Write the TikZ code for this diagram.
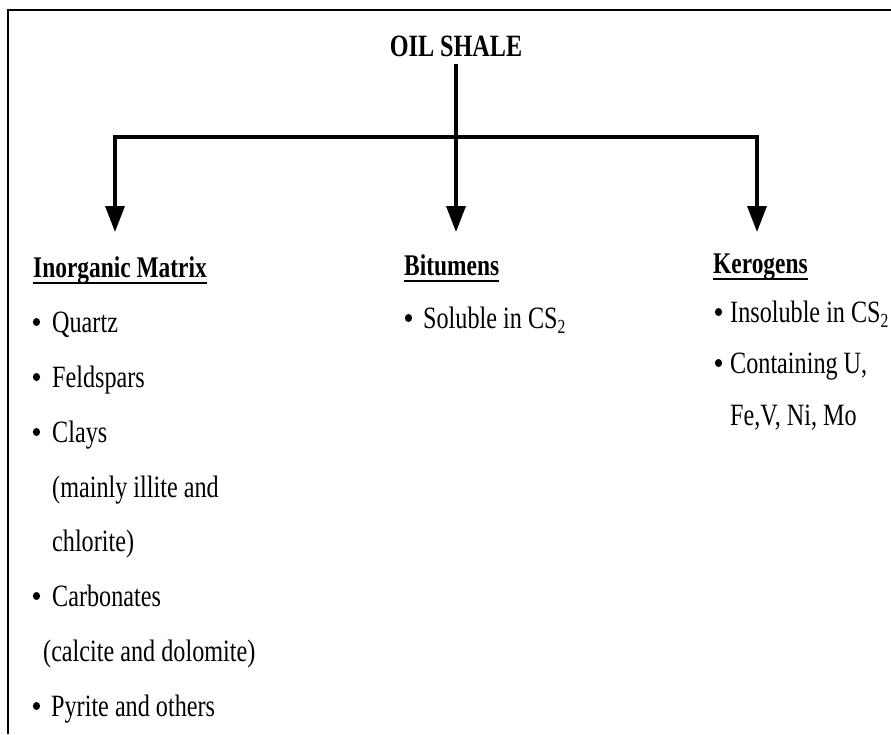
\documentclass[tikz,border=0pt]{standalone}
\usepackage{fontspec}
\setmainfont{Liberation Serif}[FakeStretch=0.78]
\usetikzlibrary{arrows.meta}
\newcommand\subtwo{\raisebox{-5pt}{\fontsize{20}{20}\selectfont 2}}
\begin{document}
\begin{tikzpicture}[x=1pt,y=-1pt,
  body/.style={anchor=base west, inner sep=0pt, font=\fontsize{31}{31}\selectfont},
  head/.style={anchor=base west, inner sep=0pt, font=\fontsize{30}{30}\selectfont\bfseries},
  conn/.style={line width=3.5pt},
  tip/.style={-{Triangle[width=19pt,length=26pt]}},
  bothtip/.style={{Triangle[width=19pt,length=26pt]}-{Triangle[width=19pt,length=26pt]}},
  uline/.style={line width=2.5pt},
  dot/.style={fill=black}]
\useasboundingbox (0,0) rectangle (891,734);
% frame (top and left only)
\draw[line width=2pt] (8,734) -- (8,10) -- (891,10);

% title
\node[inner sep=0pt, anchor=base, font=\fontsize{31}{31}\selectfont\bfseries] (title) at (456,56) {OIL SHALE};

% headings
\node[head] (inorg) at (33,277) {Inorganic Matrix};
\node[head] (bitum) at (404,275) {Bitumens};
\node[head] (kerog) at (713,273) {Kerogens};
\foreach \h in {inorg,bitum,kerog}
  \draw[uline] ([yshift=-6pt]\h.base west) -- ([yshift=-6pt]\h.base east);

% connectors
\coordinate (bL) at (115,137);
\coordinate (bR) at (757,137);
\coordinate (aL) at (115,232);
\coordinate (aR) at (757,232);
\draw[conn, bothtip] (aL) -- (bL) -- (bR) -- (aR);
\draw[conn, tip, shorten <=7pt] (title.south) -- (title.south |- aL);

% inorganic matrix items
\node[body] (i1) at (52,332) {Quartz};
\node[body] (i2) at (52,387) {Feldspars};
\node[body] (i3) at (52,442) {Clays};
\node[body] (i4) at (52,497) {(mainly illite and};
\node[body] (i5) at (52,551) {chlorite)};
\node[body] (i6) at (52,606) {Carbonates};
\node[body] (i7) at (43,661) {(calcite and dolomite)};
\node[body] (i8) at (51,716) {Pyrite and others};
\foreach \n in {i1,i2,i3,i6}
  \fill[dot] ([xshift=-15.5pt,yshift=10pt]\n.base west) ellipse [x radius=3.6pt, y radius=4pt];
\fill[dot] ([xshift=-14.5pt,yshift=10pt]i8.base west) ellipse [x radius=3.6pt, y radius=4pt];

% bitumens items
\node[body] (b1) at (423,328) {Soluble in CS\subtwo};
\fill[dot] ([xshift=-14.5pt,yshift=10pt]b1.base west) ellipse [x radius=3.6pt, y radius=4pt];

% kerogens items
\node[body] (k1) at (730,322) {Insoluble in CS\subtwo};
\node[body] (k2) at (730,373) {Containing U,};
\node[body] (k3) at (730,425) {Fe,V, Ni, Mo};
\foreach \n in {k1,k2}
  \fill[dot] ([xshift=-11.5pt,yshift=10pt]\n.base west) ellipse [x radius=3.6pt, y radius=4pt];
\end{tikzpicture}
\end{document}
